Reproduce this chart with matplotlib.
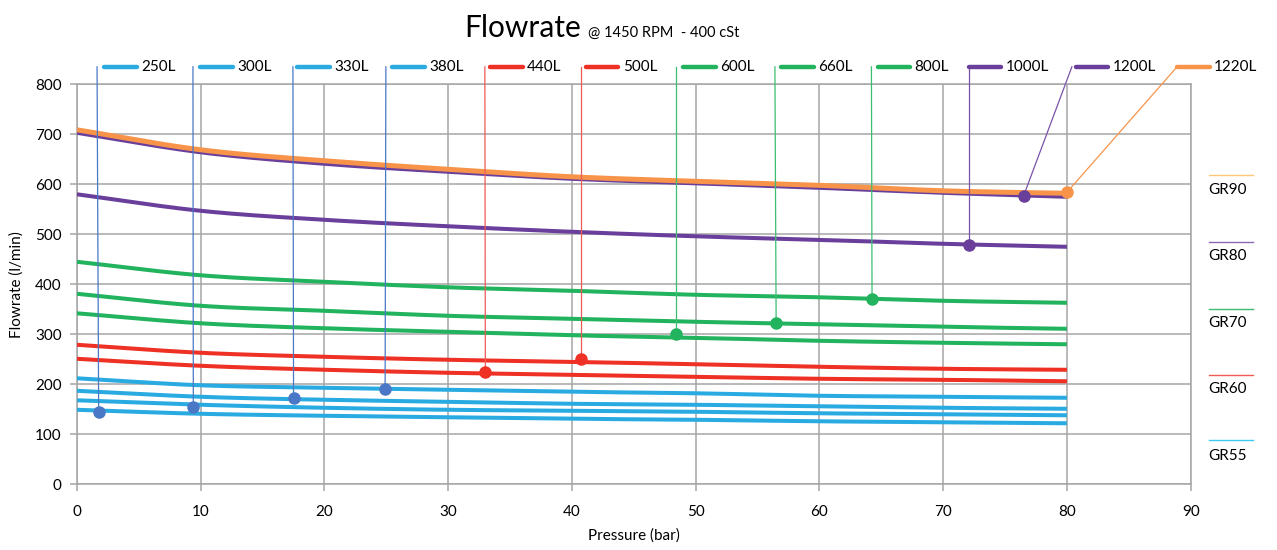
import numpy as np
import matplotlib
matplotlib.use("Agg")
import matplotlib.pyplot as plt

plt.rcParams['font.family'] = ['Lato', 'DejaVu Sans']

# pressure points (bar)
pressure = [0, 10, 20, 30, 40, 50, 60, 70, 80]

# flowrate curves (l/min)
flow_250 = [149, 141, 137, 134, 131, 129, 126, 124, 122]
flow_300 = [168, 159, 153, 149, 147, 145, 142, 140, 138]
flow_330 = [187, 175, 169, 165, 161, 159, 156, 153, 151]
flow_380 = [212, 198, 193, 189, 185, 182, 177, 175, 173]
flow_440 = [251, 237, 229, 223, 219, 215, 211, 209, 206]
flow_500 = [279, 263, 255, 249, 245, 240, 235, 231, 229]
flow_600 = [342, 322, 312, 305, 298, 293, 287, 283, 280]
flow_660 = [381, 357, 347, 337, 331, 325, 320, 315, 311]
flow_800 = [445, 418, 405, 394, 387, 379, 374, 367, 363]
flow_1000 = [580, 547, 529, 516, 505, 496, 489, 481, 475]
flow_1200 = [703, 664, 641, 625, 611, 602, 593, 583, 575]
flow_1220 = [709, 669, 647, 630, 615, 606, 598, 587, 582]

model_names = ['250L', '300L', '330L', '380L', '440L', '500L',
               '600L', '660L', '800L', '1000L', '1200L', '1220L']
series_flows = [flow_250, flow_300, flow_330, flow_380, flow_440, flow_500,
                flow_600, flow_660, flow_800, flow_1000, flow_1200, flow_1220]
series_group = ['GR55', 'GR55', 'GR55', 'GR55', 'GR60', 'GR60',
                'GR70', 'GR70', 'GR70', 'GR80', 'GR80', 'GR90']

# labelled points on each curve
marker_x = [1.75, 9.4, 17.5, 24.9, 33.0, 40.7, 48.4, 56.5, 64.25, 72.05, 76.5, 80.0]
marker_y = [145, 154, 172, 191, 224, 251, 301, 322, 370, 478, 577, 584]

group_names = ['GR90', 'GR80', 'GR70', 'GR60', 'GR55']

# styling
line_col = {'GR55': '#29ABE2', 'GR60': '#EE3124', 'GR70': '#22B35E',
            'GR80': '#6A3F9C', 'GR90': '#F7944A'}
leader_col = {'GR55': '#4A78C6', 'GR60': '#EE5A55', 'GR70': '#3CBE72',
              'GR80': '#7A52AA', 'GR90': '#F7944A'}
dot_col = {'GR55': '#4A78C6', 'GR60': '#EE3124', 'GR70': '#22B35E',
           'GR80': '#6A3F9C', 'GR90': '#F7944A'}
key_col = {'GR90': '#FCC77A', 'GR80': '#8A6AB0', 'GR70': '#3DBB70',
           'GR60': '#F05A55', 'GR55': '#3CC8F0'}
# where the label row sits (x of leader tops / key segments)
leader_top_x = [1.62, 9.37, 17.45, 24.96, 32.96, 40.7, 48.4, 56.4, 64.2, 72.05, 80.4, 88.9]
key_start_x = [2.18, 9.94, 17.77, 25.44, 33.36, 41.11, 48.95, 56.87, 64.7, 72.05, 80.7, 88.9]
label_row_y = 835
group_line_y = [618, 485, 351, 219, 89]
group_text_y = [589, 457, 323, 191, 57]


def smooth(x, y, n=24):
    # catmull-rom through the points, like a smoothed office line
    x = np.asarray(x, float)
    y = np.asarray(y, float)
    px = np.concatenate([[2 * x[0] - x[1]], x, [2 * x[-1] - x[-2]]])
    py = np.concatenate([[2 * y[0] - y[1]], y, [2 * y[-1] - y[-2]]])
    t = np.linspace(0, 1, n, endpoint=False)
    xs, ys = [], []
    for i in range(1, len(px) - 2):
        for p, out in ((px, xs), (py, ys)):
            p0, p1, p2, p3 = p[i - 1], p[i], p[i + 1], p[i + 2]
            out.append(0.5 * (2 * p1 + (-p0 + p2) * t
                              + (2 * p0 - 5 * p1 + 4 * p2 - p3) * t ** 2
                              + (-p0 + 3 * p1 - 3 * p2 + p3) * t ** 3))
    xs.append([x[-1]])
    ys.append([y[-1]])
    return np.concatenate(xs), np.concatenate(ys)


fig = plt.figure(figsize=(12.77, 5.5), dpi=100)
ax = fig.add_axes([0.0603, 0.1195, 0.8721, 0.7272])

grid_col = '#A6A6A6'
for s in ax.spines.values():
    s.set_color(grid_col)
    s.set_linewidth(1.1)
ax.grid(True, color=grid_col, linewidth=1.1)
ax.set_axisbelow(True)
ax.set_xlim(0, 90)
ax.set_ylim(0, 800)
ax.set_xticks(range(0, 91, 10))
ax.set_yticks(range(0, 801, 100))
ax.tick_params(axis='both', colors=grid_col, length=5, width=1.1, labelcolor='black', labelsize=11)
ax.tick_params(axis='x', pad=10)
ax.tick_params(axis='y', pad=6)
ax.set_xlabel('Pressure (bar)', fontsize=11, labelpad=7)
ax.set_ylabel('Flowrate (l/min)', fontsize=11, labelpad=8)

# curves
for flows, grp in zip(series_flows, series_group):
    sx, sy = smooth(pressure, flows)
    lw = 3.6 if grp == 'GR90' else 2.9
    ax.plot(sx, sy, color=line_col[grp], linewidth=lw, solid_capstyle='butt', zorder=3)

# leaders, markers, label row
for i, name in enumerate(model_names):
    grp = series_group[i]
    ax.plot([marker_x[i], leader_top_x[i]], [marker_y[i], label_row_y],
            color=leader_col[grp], linewidth=0.9, clip_on=False, zorder=4)
    ax.plot(marker_x[i], marker_y[i], 'o', color=dot_col[grp], markersize=8, zorder=5)
    ax.plot([key_start_x[i], key_start_x[i] + 2.65], [label_row_y, label_row_y],
            color=line_col[grp], linewidth=3.2, solid_capstyle='round', clip_on=False, zorder=4)
    ax.text(key_start_x[i] + 3.0, label_row_y, name, fontsize=11,
            va='center', ha='left', clip_on=False)

# group key on the right
for grp, ly, ty in zip(group_names, group_line_y, group_text_y):
    ax.plot([91.45, 95.0], [ly, ly], color=key_col[grp], linewidth=1.0, clip_on=False)
    ax.text(91.45, ty, grp, fontsize=11, va='center', ha='left', clip_on=False)

# title
fig.text(464 / 1277, 1 - 36.7 / 550, 'Flowrate', fontsize=21.5, va='baseline', ha='left')
fig.text(588 / 1277, 1 - 36.7 / 550, '@ 1450 RPM  - 400 cSt', fontsize=10.5, va='baseline', ha='left')

fig.savefig('out.png', dpi=100)
